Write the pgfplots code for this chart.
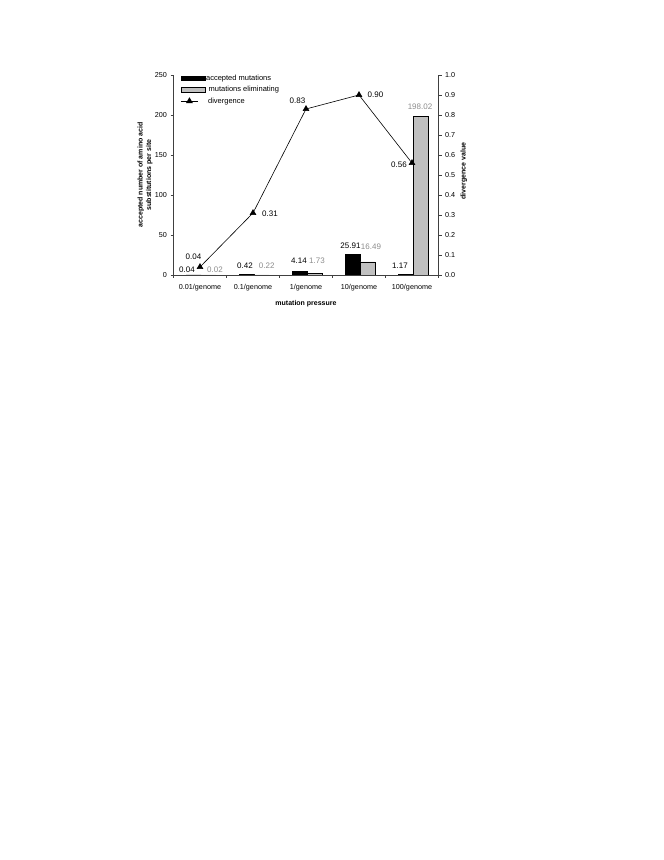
\documentclass[border=0pt]{standalone}
\usepackage{fontspec}
\setmainfont{Liberation Sans}
\usepackage{pgfplots}
\pgfplotsset{compat=1.18}
\usepackage{pgfplotstable}

\definecolor{barlight}{HTML}{C0C0C0}
\definecolor{labgray}{HTML}{8C8C8C}

% bar values, label text and label offsets (pt, from the category centre)
\pgfplotstableread{
x y lab dx dy
1 0.04 0.04 -13 1.7
2 0.42 0.42 -8 5.7
3 4.14 4.14 -7 7.7
4 25.91 25.91 -8.5 5
5 1.17 1.17 -12 5
}\accepted
\pgfplotstableread{
x y lab dx dy
1 0.02 0.02 15 1.7
2 0.22 0.22 13.7 5.8
3 1.73 1.73 11 9.6
4 16.49 16.49 12 12
5 198.02 198.02 8 6.6
}\eliminating
\pgfplotstableread{
x y lab dx dy
1 0.04 0.04 -6.5 10.5
2 0.31 0.31 17 -1
3 0.83 0.83 -8.5 8.3
4 0.90 0.90 16.5 0
5 0.56 0.56 -13 -2
}\divergence

\pgfplotsset{
  common/.style={
    at={(173.5pt,585pt)}, anchor=south west,
    scale only axis, width=265pt, height=200pt,
    xmin=0.5, xmax=5.5,
    /pgf/number format/assume math mode=true,
    tick align=outside, major tick length=3pt, minor tick length=3pt,
    tick style={black!75, line width=0.5pt},
    axis line style={black!75, line width=0.5pt, -},
    ticklabel style={font=\fontsize{7.2}{8.5}\selectfont},
    label style={font=\bfseries\fontsize{7}{8.5}\selectfont},
  },
}

\begin{document}
\begin{tikzpicture}
\path[use as bounding box] (0,0) rectangle (664pt,860pt);

\begin{axis}[
  common,
  ymin=0, ymax=250,
  axis x line*=bottom, axis y line*=left,
  xtick={1,2,3,4,5},
  xticklabels={0.01/genome,0.1/genome,1/genome,10/genome,100/genome},
  xticklabel style={yshift=-2.5pt},
  major x tick style={draw=none},
  minor xtick={0.5,1.5,2.5,3.5,4.5,5.5},
  ytick={0,50,100,150,200,250},
  xlabel={mutation pressure},
  xlabel style={at={(axis description cs:0.5,-0.1415)}, anchor=center},
  ylabel={accepted number of amino acid\\substitutions per site},
  ylabel style={at={(axis description cs:-0.1075,0.5)}, anchor=center, align=center},
]
\addplot[ybar, bar width=15pt, bar shift=-6.5pt, fill=black, draw=black,
  point meta=explicit symbolic,
  visualization depends on={\thisrow{dx} \as \dx},
  visualization depends on={\thisrow{dy} \as \dy},
  nodes near coords,
  nodes near coords style={anchor=south, inner sep=0pt, text=black,
    font=\fontsize{8}{9}\selectfont, xshift=\dx*1pt, yshift=\dy*1pt}]
  table[x=x, y=y, meta=lab] {\accepted};
\addplot[ybar, bar width=15pt, bar shift=8.5pt, fill=barlight, draw=black,
  point meta=explicit symbolic,
  visualization depends on={\thisrow{dx} \as \dx},
  visualization depends on={\thisrow{dy} \as \dy},
  nodes near coords,
  nodes near coords style={anchor=south, inner sep=0pt, text=labgray,
    font=\fontsize{8}{9}\selectfont, xshift=\dx*1pt, yshift=\dy*1pt}]
  table[x=x, y=y, meta=lab] {\eliminating};
\end{axis}

\begin{axis}[
  common,
  ymin=0, ymax=1,
  axis x line=none, axis y line*=right,
  ytick={0,0.1,0.2,0.3,0.4,0.5,0.6,0.7,0.8,0.9,1},
  yticklabel style={/pgf/number format/.cd, fixed, fixed zerofill, precision=1},
  ylabel={divergence value},
  ylabel style={at={(axis description cs:1.096,0.52)}, anchor=center, rotate=0},
  legend cell align=left,
  legend style={at={(axis description cs:0.026,1.012)}, anchor=north west,
    draw=none, fill=none, font=\fontsize{7.5}{9}\selectfont,
    row sep=0.5pt, inner sep=0pt},
]
\addlegendimage{legend image code/.code={\draw[fill=black, draw=black] (0pt,-2.2pt) rectangle (24pt,2.2pt);}}
\addlegendentry{\hspace*{-1pt}accepted mutations}
\addlegendimage{legend image code/.code={\draw[fill=barlight, draw=black] (0pt,-2.2pt) rectangle (24pt,2.2pt);}}
\addlegendentry{\hspace*{1.5pt}mutations eliminating}
\addplot[black, line width=0.6pt, mark=triangle*, mark size=3.3pt,
  point meta=explicit symbolic,
  visualization depends on={\thisrow{dx} \as \dx},
  visualization depends on={\thisrow{dy} \as \dy},
  nodes near coords,
  nodes near coords style={anchor=center, inner sep=0pt, text=black,
    font=\fontsize{8}{9}\selectfont, xshift=\dx*1pt, yshift=\dy*1pt}]
  table[x=x, y=y, meta=lab] {\divergence};
\addlegendentry{\hspace*{1pt}divergence}
\end{axis}
\end{tikzpicture}
\end{document}
